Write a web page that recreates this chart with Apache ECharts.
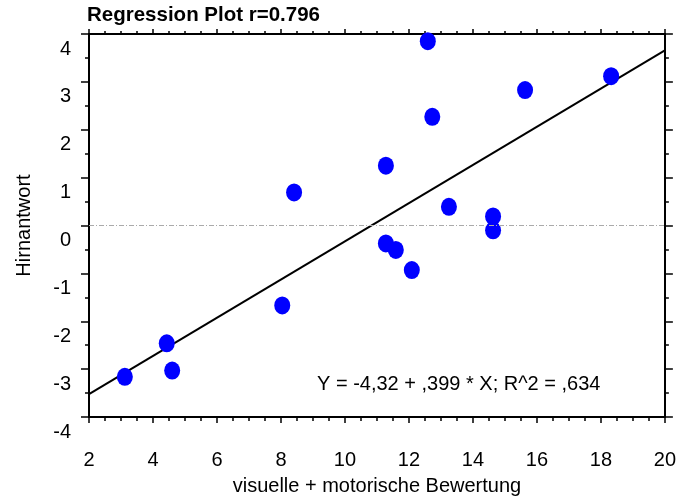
<!DOCTYPE html>
<html><head><meta charset="utf-8">
<script src="https://cdn.jsdelivr.net/npm/echarts@6/dist/echarts.min.js"></script>
<style>html,body{margin:0;padding:0;background:#fff}#c{width:679px;height:501px}</style>
</head><body><div id="c"></div>
<script>
var xValues = [3.12, 4.43, 4.60, 8.04, 8.41, 11.28, 11.28, 11.59, 12.09, 12.59, 12.73, 13.25, 14.63, 14.63, 15.63, 18.32];
var yValues = [-3.16, -2.46, -3.03, -1.67, 0.69, 1.25, -0.375, -0.51, -0.93, 3.85, 2.27, 0.39, 0.19, -0.10, 2.83, 3.12];
var regIntercept = -4.32;
var regSlope = 0.399;
var regXRange = [2, 20];
var titleText = 'Regression Plot r=0.796';
var eqText = 'Y = -4,32 + ,399 * X; R^2 = ,634';
var xName = 'visuelle + motorische Bewertung';
var yName = 'Hirnantwort';

var FONT = 'Liberation Sans';
var points = xValues.map(function (x, i) { return [x, yValues[i]]; });
var regLine = regXRange.map(function (x) { return [x, regIntercept + regSlope * x]; });

var chart = echarts.init(document.getElementById('c'), null, {renderer: 'canvas'});
var axisLine = {show: true, onZero: false, lineStyle: {color: '#000', width: 2}};
chart.setOption({
  animation: false,
  backgroundColor: '#fff',
  title: {text: titleText, left: 87, top: 5, padding: 0,
    textStyle: {fontFamily: FONT, fontWeight: 'bold', fontSize: 20.5, color: '#000'}},
  grid: {left: 89, right: 14, top: 34, bottom: 82, containLabel: false},
  xAxis: [{
    type: 'value', min: 2, max: 20, interval: 2, position: 'bottom',
    axisLine: axisLine,
    axisTick: {show: true, length: 6, lineStyle: {color: '#000', width: 1.5}},
    minorTick: {show: true, splitNumber: 4, length: 4, lineStyle: {color: '#000', width: 1.5}},
    splitLine: {show: false},
    axisLabel: {margin: 33, fontFamily: FONT, fontSize: 20, color: '#000'},
    name: xName, nameLocation: 'middle', nameGap: 59,
    nameTextStyle: {fontFamily: FONT, fontSize: 20, color: '#000'}
  }, {
    type: 'value', min: 2, max: 20, interval: 2, position: 'top',
    axisLine: axisLine,
    axisTick: {show: true, length: 5, lineStyle: {color: '#000', width: 1.5}},
    minorTick: {show: true, splitNumber: 4, length: 3, lineStyle: {color: '#000', width: 1.5}},
    splitLine: {show: false}, axisLabel: {show: false}
  }],
  yAxis: [{
    type: 'value', min: -4, max: 4, interval: 1, position: 'left',
    axisLine: axisLine,
    axisTick: {show: true, length: 8, lineStyle: {color: '#000', width: 1.5}},
    minorTick: {show: true, splitNumber: 2, length: 4, lineStyle: {color: '#000', width: 1.5}},
    splitLine: {show: false},
    axisLabel: {margin: 18, verticalAlign: 'top', padding: [5, 0, 0, 0], fontFamily: FONT, fontSize: 20, color: '#000'},
    name: yName, nameLocation: 'middle', nameGap: 55,
    nameTextStyle: {fontFamily: FONT, fontSize: 20, color: '#000'}
  }, {
    type: 'value', min: -4, max: 4, interval: 1, position: 'right',
    axisLine: axisLine,
    axisTick: {show: true, length: 8, lineStyle: {color: '#000', width: 1.5}},
    minorTick: {show: true, splitNumber: 2, length: 4, lineStyle: {color: '#000', width: 1.5}},
    splitLine: {show: false}, axisLabel: {show: false}
  }],
  graphic: [{
    type: 'text', left: 317, top: 374, z: 100,
    style: {text: eqText, font: '20px "Liberation Sans"', fill: '#000'}
  }],
  series: [{
    type: 'line', data: regLine, symbol: 'none', silent: true,
    lineStyle: {color: '#000', width: 2}, z: 2,
    markLine: {silent: true, symbol: 'none', label: {show: false},
      lineStyle: {color: '#aaa', width: 1, type: [5, 2, 1, 2]},
      data: [{yAxis: 0}]}
  }, {
    type: 'scatter', data: points, symbol: 'circle', symbolSize: [16, 18],
    itemStyle: {color: '#0000ff', opacity: 1}, z: 3
  }]
});
</script></body></html>
